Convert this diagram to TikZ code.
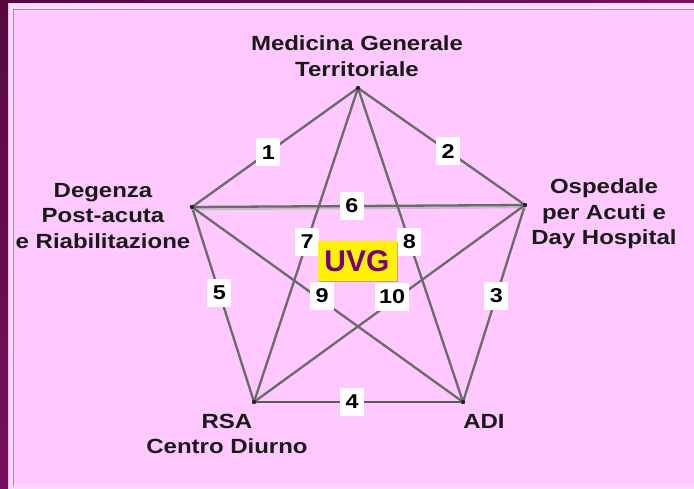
\documentclass[tikz,border=0pt]{standalone}
\usepackage{fontspec}
\setmainfont{Liberation Sans}
\newfontfamily\etichetta{Liberation Sans}[FakeStretch=1.17]
\usetikzlibrary{shadows}

\definecolor{rosa}{HTML}{FFC8FF}
\definecolor{rosachiaro}{HTML}{FFD8FF}
\definecolor{viola}{HTML}{7A0E5E}
\definecolor{violascuro}{HTML}{560A40}
\definecolor{linea}{HTML}{6A6A6A}
\definecolor{uvgviola}{HTML}{7A007A}

\begin{document}
\begin{tikzpicture}[x=1pt,y=-1pt,
		lato/.style={draw=linea, line width=2.3pt},
		numero/.style={fill=white, inner xsep=4pt, inner ysep=0pt, minimum width=24pt, minimum height=28pt, text=black,
			font=\etichetta\bfseries\fontsize{20}{20}\selectfont},
		testo/.style={align=center, text=black!90, font=\etichetta\bfseries\fontsize{20.5}{25.5}\selectfont}]

		\useasboundingbox (0,0) rectangle (694,489);

		% cornice
		\fill[rosachiaro] (0,0) rectangle (694,489);
		\shade[left color=violascuro, right color=viola] (0,0) rectangle (694,3);
		\shade[top color=violascuro, bottom color=viola] (0,0) rectangle (8,489);
		\fill[rosa] (14,10) rectangle (694,484);
		\draw[gray!85, line width=1.5pt] (13.5,486) -- (13.5,9.5) -- (694,9.5);

		% vertici
		\coordinate (mg) at (358,88);
		\coordinate (dg) at (192,207);
		\coordinate (os) at (525,205);
		\coordinate (rsa) at (254,402);
		\coordinate (adi) at (463,402);

		\draw[lato] (mg) -- (dg); %1
		\draw[lato] (mg) -- (os); %2
		\draw[lato] (os) -- (adi); %3
		\draw[lato, line width=2.8pt, draw=linea!85!black] (rsa) -- (adi); %4
		\draw[lato] (dg) -- (rsa); %5
		\draw[line width=2.5pt, draw=gray!50] ([yshift=-2pt]dg) -- ([yshift=-2pt]os); %ombra 6
		\draw[lato] (dg) -- (os); %6
		\draw[lato] (mg) -- (rsa); %7
		\draw[lato] (mg) -- (adi); %8
		\draw[lato] (dg) -- (adi); %9
		\draw[lato] (os) -- (rsa); %10

		\foreach \v in {mg,dg,os,rsa,adi}
			\fill[black!85] (\v) circle (2.2pt);

		% numeri
		\path (mg) -- node[numero, pos=.54] {1} (dg);
		\path (mg) -- node[numero, pos=.54] {2} (os);
		\path (os) -- node[numero, pos=.46] {3} (adi);
		\path (rsa) -- node[numero, pos=.47] {4} (adi);
		\path (dg) -- node[numero, pos=.44] {5} (rsa);
		\path (dg) -- node[numero, pos=.48] {6} (os);
		\path (mg) -- node[numero, pos=.49] {7} (rsa);
		\path (mg) -- node[numero, pos=.49] {8} (adi);
		\path (dg) -- node[numero, pos=.48, yshift=5pt] {9} (adi);
		\path (os) -- node[numero, pos=.49, yshift=5pt] {10} (rsa);

		\node[fill=yellow, minimum width=79pt, minimum height=40pt, text=uvgviola,
			drop shadow={shadow xshift=1.5pt, shadow yshift=-1.5pt, opacity=.6},
			font=\bfseries\fontsize{30}{30}\selectfont] (uvg) at (357,261) {UVG};

		% nomi
		\node[testo] (medicina) at (357,56) {Medicina Generale\\Territoriale};
		\node[testo] (degenza) at (103,216) {Degenza\\Post-acuta\\e Riabilitazione};
		\node[testo] (ospedale) at (604,214) {Ospedale\\per Acuti e\\Day Hospital};
		\node[testo] (rsalabel) at (227,434) {RSA\\Centro Diurno};
		\node[testo] (adilabel) at (484,421) {ADI};

	\end{tikzpicture}
\end{document}
